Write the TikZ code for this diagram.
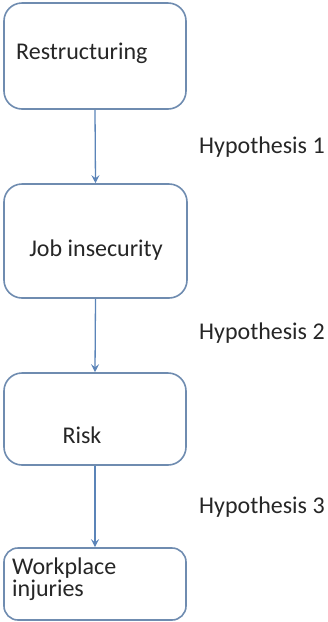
\documentclass[tikz,border=0pt]{standalone}
\usepackage{fontspec}
\setmainfont{Carlito}
\usetikzlibrary{arrows.meta}
\definecolor{boxblue}{HTML}{6F8CB0}
\definecolor{arrblue}{HTML}{5B84B8}
\definecolor{txt}{HTML}{262626}
\tikzset{
  box/.style={draw=boxblue, line width=1.6pt, rounded corners=18pt, fill=white, inner sep=0pt},
  lbl/.style={text=txt, inner sep=0pt, font=\fontsize{24}{22}\selectfont},
  arr/.style={draw=arrblue, line width=1.3pt, -{Stealth[length=8pt,width=8pt,inset=3pt]}}
}
\begin{document}
\begin{tikzpicture}[x=1pt,y=-1pt]
\useasboundingbox (0,0) rectangle (328,622);
\node[box, minimum width=182pt, minimum height=106pt] (b1) at (95,56) {};
\node[box, minimum width=183pt, minimum height=114pt] (b2) at (95.5,241) {};
\node[box, minimum width=182pt, minimum height=92pt] (b3) at (95,419) {};
\node[box, rounded corners=14pt, minimum width=182pt, minimum height=72pt] (b4) at (95,584) {};
\node[lbl, anchor=west] (t1) at (16,53) {Restructuring};
\node[lbl] (t2) at (96,250) {Job insecurity};
\node[lbl] (t3) at (82,435) {Risk};
\node[lbl, anchor=west, align=left] (t4) at (12,579) {Workplace\\injuries};
\node[lbl, anchor=west] (h1) at (199,147) {Hypothesis 1};
\node[lbl, anchor=west] (h2) at (199,333) {Hypothesis 2};
\node[lbl, anchor=west] (h3) at (199,507) {Hypothesis 3};
\draw[arr] (b1.south) -- (b2.north);
\draw[arr] (b2.south) -- (b3.north);
\draw[arr] (b3.south) -- (b4.north);
\end{tikzpicture}
\end{document}
